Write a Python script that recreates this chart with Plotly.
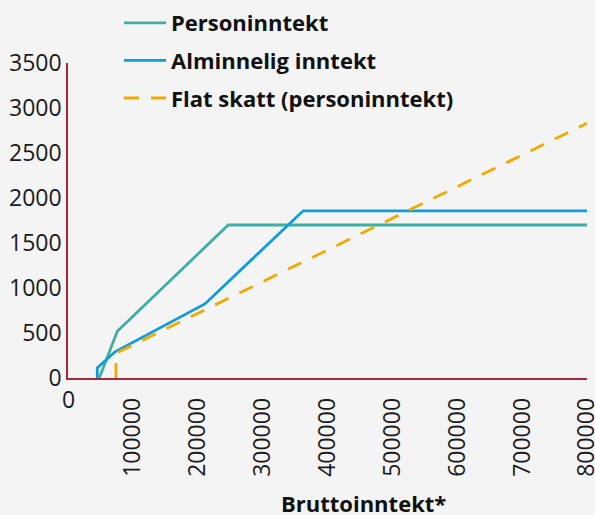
import plotly.graph_objects as go

# Data
person_x = [48250, 76000, 247000, 800000]
person_y = [0, 520, 1700, 1700]

alm_x = [45200, 45200, 72500, 211000, 362500, 800000]
alm_y = [0, 113, 291, 823, 1858, 1858]

flat_x = [74000, 74000, 800000]
flat_y = [0, 275, 2830]

x_ticks = [100000, 200000, 300000, 400000, 500000, 600000, 700000, 800000]
x_ticklabels = [str(v) for v in x_ticks]
y_ticks = [0, 500, 1000, 1500, 2000, 2500, 3000, 3500]

names = ["Personinntekt", "Alminnelig inntekt", "Flat skatt (personinntekt)"]

TEAL = "#3cb0a0"
BLUE = "#0e9cdb"
ORANGE = "#f2a900"
AXIS = "#a5283c"
BG = "#f4f4f4"
FONT = "Open Sans"

fig = go.Figure()
fig.add_trace(go.Scatter(x=person_x, y=person_y, mode="lines", name=names[0],
                         legendgroup="a", line=dict(color=TEAL, width=2.8)))
fig.add_trace(go.Scatter(x=alm_x, y=alm_y, mode="lines", name=names[1],
                         legendgroup="b", line=dict(color=BLUE, width=2.8)))
fig.add_trace(go.Scatter(x=flat_x, y=flat_y, mode="lines", name=names[2],
                         legendgroup="c",
                         line=dict(color=ORANGE, width=2.8, dash="15px,12px")))

fig.update_layout(
    width=595, height=515,
    paper_bgcolor=BG, plot_bgcolor=BG,
    margin=dict(l=68, r=8, t=63, b=136.5, autoexpand=False),
    font=dict(family=FONT, color="#1a1a1a", size=23),
    showlegend=True,
    legend=dict(
        xref="container", yref="container",
        x=119 / 595, xanchor="left",
        y=1 - 2 / 515, yanchor="top",
        font=dict(family=FONT, size=22, weight="bold", color="#111111"),
        itemwidth=42,
        tracegroupgap=6,
        bgcolor="rgba(0,0,0,0)",
    ),
    xaxis=dict(
        range=[0, 800000], tickvals=x_ticks, ticktext=x_ticklabels,
        tickangle=-90, showgrid=False, zeroline=False,
        showline=True, linecolor=AXIS, linewidth=1.5,
        ticks="", tickfont=dict(size=23), fixedrange=True, automargin=False,
        ticklabeloverflow="allow", ticklabelstandoff=9,
    ),
    yaxis=dict(
        range=[0, 3500], tickvals=y_ticks, showgrid=False, zeroline=False,
        showline=True, linecolor=AXIS, linewidth=1.5,
        ticks="", tickfont=dict(size=23), ticklabelstandoff=0, automargin=False,
        ticklabeloverflow="allow", fixedrange=True,
    ),
    annotations=[
        dict(text="0", x=0, xref="x", y=0, yref="paper", yanchor="top",
             xanchor="center", yshift=-3, showarrow=False,
             font=dict(size=23, family=FONT)),
        dict(text="<b>Bruttoinntekt*</b>", x=(363 - 68) / 519, xref="paper",
             y=(378.5 - 504) / 315.5, yref="paper", yanchor="middle",
             xanchor="center", showarrow=False,
             font=dict(size=22, family=FONT, color="#111111")),
    ],
)

fig.write_html(
    "out.html",
    config={"displayModeBar": False},
    post_script="document.body.style.margin='0';document.body.style.overflow='hidden';",
)
